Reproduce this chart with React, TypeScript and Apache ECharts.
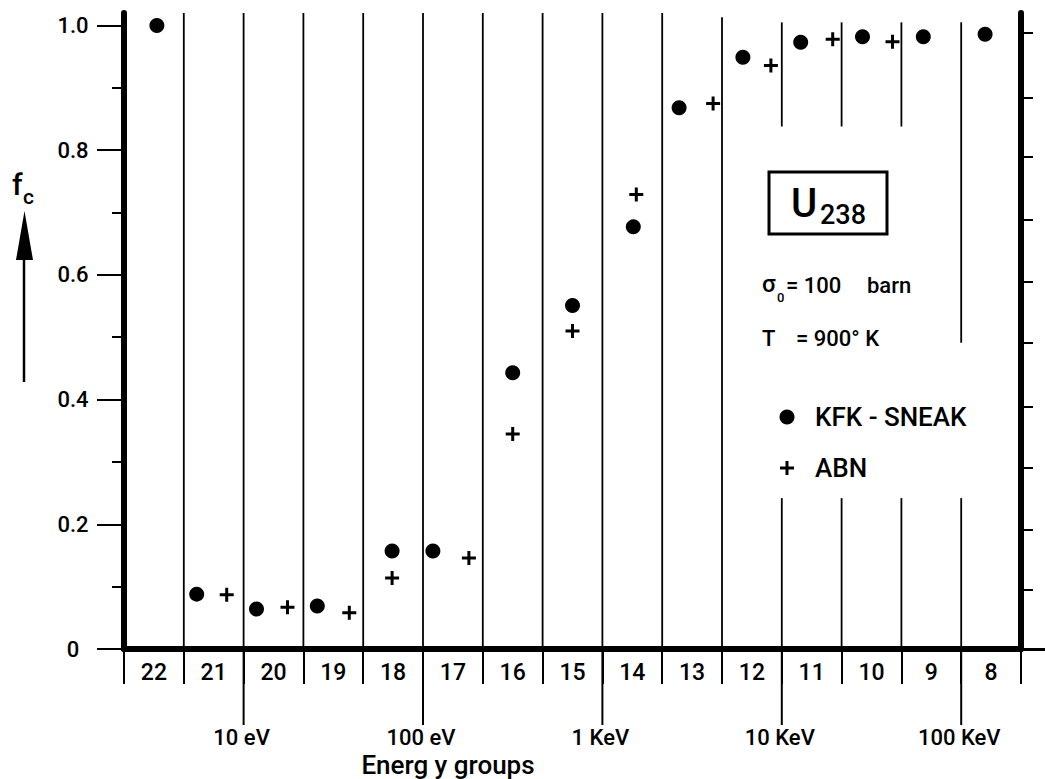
import React, { useEffect, useRef } from 'react';
import * as echarts from 'echarts';

// ---------- data ----------
const groups = ['22', '21', '20', '19', '18', '17', '16', '15', '14', '13', '12', '11', '10', '9', '8'];
const kfkSneak = [1.0, 0.088, 0.064, 0.069, 0.157, 0.157, 0.443, 0.551, 0.677, 0.868, 0.949, 0.973, 0.982, 0.982, 0.986];
const abn = [null, 0.087, 0.067, 0.058, 0.114, 0.146, 0.345, 0.51, 0.729, 0.875, 0.936, 0.978, 0.974, null, null];
const yTickValues = [0, 0.2, 0.4, 0.6, 0.8, 1.0];
const yTickLabels = ['0', '0.2', '0.4', '0.6', '0.8', '1.0'];
const yMinorTicks = [0.1, 0.3, 0.5, 0.7, 0.9];
const rightTicks = [0.095, 0.191, 0.291, 0.388, 0.491, 0.589, 0.689, 0.79, 0.884, 0.989];
const decadeBoundaries = [2, 5, 8, 11, 14];
const decadeLabels = ['10 eV', '100 eV', '1 KeV', '10 KeV', '100 KeV'];
// group separators: [boundary index, from f_c, to f_c]
const separators = [
  [1, 0, 1.02], [2, 0, 1.02], [3, 0, 1.02], [4, 0, 1.02], [5, 0, 1.02],
  [6, 0, 1.02], [7, 0, 1.02], [8, 0, 1.02], [9, 0, 1.02], [10, 0, 1.013],
  [11, 0.838, 1.005], [11, 0, 0.242],
  [12, 0.838, 1.005], [12, 0, 0.242],
  [13, 0.838, 1.005], [13, 0, 0.242],
  [14, 0.491, 1.005], [14, 0, 0.242],
];

// ---------- style ----------
const FONT = 'Roboto, "DejaVu Sans", sans-serif';
const INK = '#000';
const kfkNudge = [3, -17, -17, -16, -1, -20, 0, 0, 1, -13, -9, -11, -9, -8, -6];
const abnNudge = [0, 13, 14, 16, -1, 16, 0, 0, 4, 21, 19, 21, 21, 0, 0];
const PLUS = 'path://M0,5.5H14V8.5H0Z M5.5,0H8.5V14H5.5Z';

export default function App() {
  const ref = useRef<HTMLDivElement>(null);
  useEffect(() => {
    document.body.style.margin = '0';
    const chart = echarts.init(ref.current!, null, { renderer: 'svg' });
    const txt = (text: string, x: number, y: number, size: number, align = 'left') => ({
      type: 'text', x, y, silent: true,
      style: { text, fontSize: size, fontFamily: FONT, fontWeight: 500, fill: INK, align, verticalAlign: 'middle' },
    });
    const option: any = {
      animation: false,
      backgroundColor: '#fff',
      grid: { left: 124, right: 24, top: 13, bottom: 130, containLabel: false },
      xAxis: [
        {
          type: 'category', data: groups, boundaryGap: true, position: 'bottom',
          axisLine: { show: true, lineStyle: { color: INK, width: 6 } },
          axisTick: { show: true, interval: 0, length: 35, lineStyle: { color: INK, width: 2 } },
          axisLabel: { interval: 0, margin: 12, fontSize: 23, fontFamily: FONT, fontWeight: 500, color: INK },
          splitLine: { show: false },
        },
      ],
      yAxis: [
        {
          type: 'value', min: 0, max: 1.02, position: 'left',
          axisLine: { show: true, lineStyle: { color: INK, width: 6 } },
          axisTick: { show: true, customValues: yTickValues, length: 27, lineStyle: { color: INK, width: 2 } },
          axisLabel: {
            customValues: yTickValues, margin: 51, align: 'center', fontSize: 22, fontFamily: FONT, fontWeight: 500, color: INK,
            formatter: (v: number) => yTickLabels[Math.round(v / 0.2)],
          },
          splitLine: { show: false },
        },
        {
          type: 'value', min: 0, max: 1.02, position: 'left',
          axisLine: { show: false },
          axisTick: { show: true, customValues: yMinorTicks, length: 12, lineStyle: { color: INK, width: 2 } },
          axisLabel: { show: false },
          splitLine: { show: false },
        },
        {
          type: 'value', min: 0, max: 1.02, position: 'right',
          axisLine: { show: true, lineStyle: { color: INK, width: 6 } },
          axisTick: { show: true, customValues: rightTicks, length: 12, lineStyle: { color: INK, width: 2 } },
          axisLabel: { show: false },
          splitLine: { show: false },
        },
        {
          type: 'value', min: 0, max: 1.02, position: 'right',
          axisLine: { show: false },
          axisTick: { show: true, customValues: [0], length: 24, lineStyle: { color: INK, width: 3 } },
          axisLabel: { show: false },
          splitLine: { show: false },
        },
      ],
      series: [
        {
          type: 'custom', name: 'separators', xAxisIndex: 0, yAxisIndex: 0, silent: true, z: 1,
          data: separators,
          renderItem: (params: any, api: any) => {
            const bw = api.size([1, 0])[0];
            const p0 = api.coord([api.value(0), api.value(1)]);
            const p1 = api.coord([api.value(0), api.value(2)]);
            const x = p0[0] - bw / 2;
            return { type: 'line', shape: { x1: x, y1: p0[1], x2: x, y2: p1[1] }, style: { stroke: INK, lineWidth: 1.8 } };
          },
        },
        {
          type: 'custom', name: 'decades', xAxisIndex: 0, yAxisIndex: 0, silent: true, z: 1,
          data: decadeBoundaries.map((b) => [b, 0]),
          renderItem: (params: any, api: any) => {
            const bw = api.size([1, 0])[0];
            const p = api.coord([api.value(0), 0]);
            const x = p[0] - bw / 2;
            return {
              type: 'group',
              children: [
                { type: 'line', shape: { x1: x, y1: p[1], x2: x, y2: p[1] + 76 }, style: { stroke: INK, lineWidth: 2 } },
                {
                  type: 'text', x: x - 2, y: p[1] + 88,
                  style: { text: decadeLabels[params.dataIndex], fontSize: 22, fontFamily: FONT, fontWeight: 500, fill: INK, align: 'center', verticalAlign: 'middle' },
                },
              ],
            };
          },
        },
        {
          type: 'scatter', name: 'KFK - SNEAK', xAxisIndex: 0, yAxisIndex: 0, z: 3,
          symbol: 'circle', symbolSize: 15, itemStyle: { color: INK, opacity: 1 },
          data: kfkSneak.map((v, i) => ({ value: [i, v], symbolOffset: [kfkNudge[i], 0] })),
        },
        {
          type: 'scatter', name: 'ABN', xAxisIndex: 0, yAxisIndex: 0, z: 3,
          symbol: PLUS, symbolSize: 14, itemStyle: { color: INK, opacity: 1 },
          data: abn
            .map((v, i) => (v === null ? null : { value: [i, v], symbolOffset: [abnNudge[i], 0] }))
            .filter((d) => d !== null),
        },
      ],
      graphic: [
        // f_c axis title with arrow
        txt('f', 12, 184, 30),
        txt('c', 23, 197, 21),
        { type: 'polygon', silent: true, shape: { points: [[24.5, 211], [16, 260], [33, 260]] }, style: { fill: INK } },
        { type: 'line', silent: true, shape: { x1: 24, y1: 258, x2: 24, y2: 382 }, style: { stroke: INK, lineWidth: 2.5 } },
        // U238 box
        { type: 'rect', silent: true, shape: { x: 769, y: 172, width: 118, height: 62 }, style: { fill: '#fff', stroke: INK, lineWidth: 3 } },
        txt('U', 791, 203, 40),
        txt('238', 820, 215, 27),
        // parameters
        txt('σ', 762, 284, 24),
        txt('0', 777, 297, 13),
        txt('= 100', 786, 285, 22),
        txt('barn', 867, 285, 22),
        txt('T', 762, 338, 22),
        txt('= 900° K', 796, 338, 22),
        // legend
        { type: 'circle', silent: true, shape: { cx: 787, cy: 417, r: 7.5 }, style: { fill: INK } },
        txt('KFK - SNEAK', 815, 417, 26),
        { type: 'rect', silent: true, shape: { x: 780, y: 466.5, width: 14, height: 3 }, style: { fill: INK } },
        { type: 'rect', silent: true, shape: { x: 785.5, y: 461, width: 3, height: 14 }, style: { fill: INK } },
        txt('ABN', 815, 468, 26),
        // x axis title
        txt('Energ y groups', 448, 765, 26, 'center'),
      ],
    };
    chart.setOption(option);
    return () => chart.dispose();
  }, []);
  return <div ref={ref} style={{ position: 'fixed', left: 0, top: 0, width: 1045, height: 779 }} />;
}
